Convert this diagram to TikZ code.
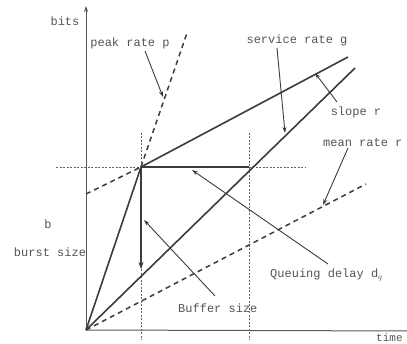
\documentclass[tikz,border=0pt]{standalone}
\usepackage{fontspec}
\setmainfont{Liberation Mono}
\usetikzlibrary{arrows.meta}
\definecolor{ink}{HTML}{3C3C3C}
\definecolor{txt}{HTML}{555555}
\tikzset{
  lbl/.style={text=txt,font=\fontsize{12}{12}\selectfont,inner sep=0pt},
  solidline/.style={draw=ink,line width=1.6pt},
  dashline/.style={draw=ink,line width=1.5pt,dash pattern=on 5pt off 4pt},
  dotline/.style={draw=ink!80,line width=0.6pt,dash pattern=on 2pt off 1.5pt},
  pointer/.style={draw=ink,line width=0.9pt,-{Stealth[length=6pt,width=4pt]}},
  axisline/.style={draw=ink!85,line width=1pt}
}
\begin{document}
\begin{tikzpicture}[x=1pt,y=-1pt]
\useasboundingbox[fill=white] (0,0) rectangle (407,344);
% key coordinates
\coordinate (O) at (86,330);
\coordinate (A) at (141,167);
\coordinate (B) at (249,167);
\coordinate (P1) at (187,33);
\coordinate (R1) at (348,57);
\coordinate (Bb) at (86,194);
\coordinate (G1) at (355,68);
\coordinate (M1) at (366,184);
\coordinate (V1) at (141,269);
\coordinate (Ytop) at (86,6);
\coordinate (Xend) at (412,331);
% dotted guides
\coordinate (H0) at (56,167); \coordinate (H1) at (306,167);
\coordinate (D0) at (141,133); \coordinate (D1) at (141,340);
\coordinate (E0) at (249,133); \coordinate (E1) at (249,340);
\draw[dotline] (H0) -- (H1);
\draw[dotline] (D0) -- (D1);
\draw[dotline] (E0) -- (E1);
% axes
\draw[axisline,-{Stealth[length=6pt,width=4pt]}] (O) -- (Ytop);
\draw[axisline] (O) -- (Xend);
% main lines
\draw[solidline] (O) -- (A);
\draw[dashline] (A) -- (P1);
\draw[solidline] (A) -- (R1);
\draw[dashline] (Bb) -- (A);
\draw[solidline] (O) -- (G1);
\draw[solidline] (A) -- (B);
\draw[dashline] (O) -- (M1);
\draw[solidline,-{Stealth[length=7pt,width=5pt]}] (A) -- (V1);
% labels
\node[lbl] (bits) at (65,21) {bits};
\node[lbl,anchor=west,font=\fontsize{11}{11}\selectfont] (time) at (376,338) {time};
\node[lbl] (peak) at (130,43) {peak rate p};
\node[lbl] (serv) at (297,40) {service rate g};
\node[lbl] (slope) at (356,112) {slope r};
\node[lbl,anchor=west] (mean) at (323,143) {mean rate r};
\node[lbl,anchor=west] (queue) at (270,275) {Queuing delay d$_q$};
\node[lbl,anchor=west] (buf) at (178,308) {Buffer size};
\node[lbl] (b) at (48,224) {b};
\node[lbl] (burst) at (50,252) {burst size};
% pointer arrows
\coordinate (pk0) at (145,51); \coordinate (pk1) at (163,97);
\coordinate (sv0) at (277,48); \coordinate (sv1) at (285,133);
\coordinate (sl0) at (337,102); \coordinate (sl1) at (315,73);
\coordinate (mn0) at (348,148); \coordinate (mn1) at (323,205);
\coordinate (qd0) at (328,264); \coordinate (qd1) at (192,170);
\coordinate (bf0) at (215,296); \coordinate (bf1) at (144,220);
\draw[pointer] (pk0) -- (pk1);
\draw[pointer] (sv0) -- (sv1);
\draw[pointer] (sl0) -- (sl1);
\draw[pointer] (mn0) -- (mn1);
\draw[pointer] (qd0) -- (qd1);
\draw[pointer] (bf0) -- (bf1);
\end{tikzpicture}
\end{document}
